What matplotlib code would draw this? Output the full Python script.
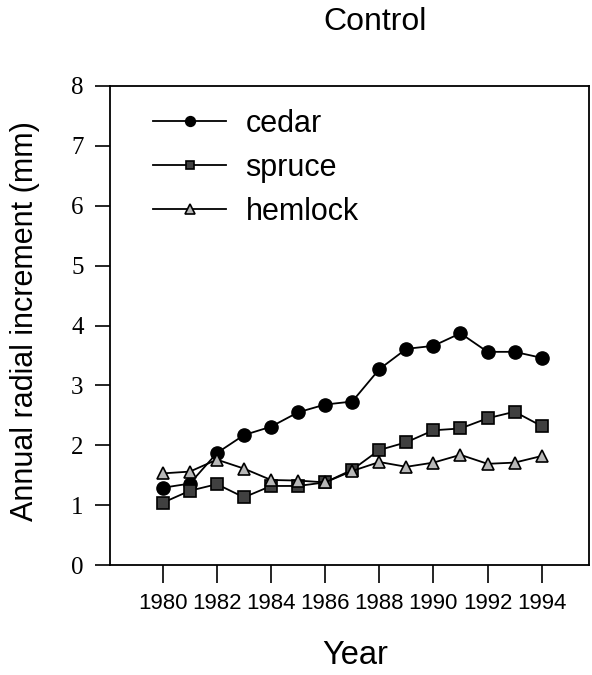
import matplotlib
matplotlib.use("Agg")
import matplotlib.pyplot as plt

years = [1980, 1981, 1982, 1983, 1984, 1985, 1986, 1987, 1988, 1989, 1990, 1991, 1992, 1993, 1994]
cedar = [1.29, 1.36, 1.87, 2.17, 2.31, 2.55, 2.68, 2.73, 3.27, 3.61, 3.66, 3.87, 3.56, 3.56, 3.46]
spruce = [1.04, 1.24, 1.35, 1.13, 1.32, 1.32, 1.38, 1.59, 1.92, 2.05, 2.25, 2.28, 2.45, 2.56, 2.32]
hemlock = [1.53, 1.56, 1.76, 1.61, 1.42, 1.41, 1.38, 1.57, 1.72, 1.64, 1.71, 1.84, 1.69, 1.71, 1.82]
xticks = [1980, 1982, 1984, 1986, 1988, 1990, 1992, 1994]
yticks = [0, 1, 2, 3, 4, 5, 6, 7, 8]

fig = plt.figure(figsize=(5.92, 6.75), dpi=100)
ax = fig.add_axes([110/592, 1-565/675, (589-110)/592, (565-86)/675])

ax.plot(years, cedar, color='black', lw=1.3, marker='o', ms=9.5, mfc='black', mec='black', label='cedar')
ax.plot(years, spruce, color='black', lw=1.3, marker='s', ms=8, mfc='#404040', mec='black', mew=1.2, label='spruce')
ax.plot(years, hemlock, color='black', lw=1.3, marker='^', ms=9, mfc='#b8b8b8', mec='black', mew=1.2, label='hemlock')

ax.set_xlim(1978.05, 1995.75)
ax.set_ylim(0, 8)
ax.set_xticks(xticks)
ax.set_xticklabels([str(x) for x in xticks], fontsize=16, family='Liberation Sans')
ax.set_yticks(yticks)
ax.set_yticklabels([str(y) for y in yticks], fontsize=18, family='Liberation Serif')
ax.tick_params(axis='y', direction='out', length=11, width=1.2, pad=8)
ax.tick_params(axis='x', direction='out', length=13, width=1.2, pad=7)
for s in ax.spines.values():
    s.set_linewidth(1.3)

fig.text(25/592, 1-321/675, 'Annual radial increment (mm)', fontsize=22, family='Liberation Sans',
         rotation=90, ha='center', va='center')
fig.text(355/592, 1-655/675, 'Year', fontsize=23.5, family='Liberation Sans', ha='center', va='center')
fig.text(375/592, 1-22/675, 'Control', fontsize=23, family='Liberation Sans', ha='center', va='center')

leg = ax.legend(loc='upper left', bbox_to_anchor=(0.09, 0.952), frameon=False,
                prop={'family': 'Liberation Sans', 'size': 22}, handlelength=2.4,
                handletextpad=0.62, labelspacing=0.46, borderaxespad=0, borderpad=0,
                markerscale=0.75)

fig.savefig('out.png', dpi=100)
